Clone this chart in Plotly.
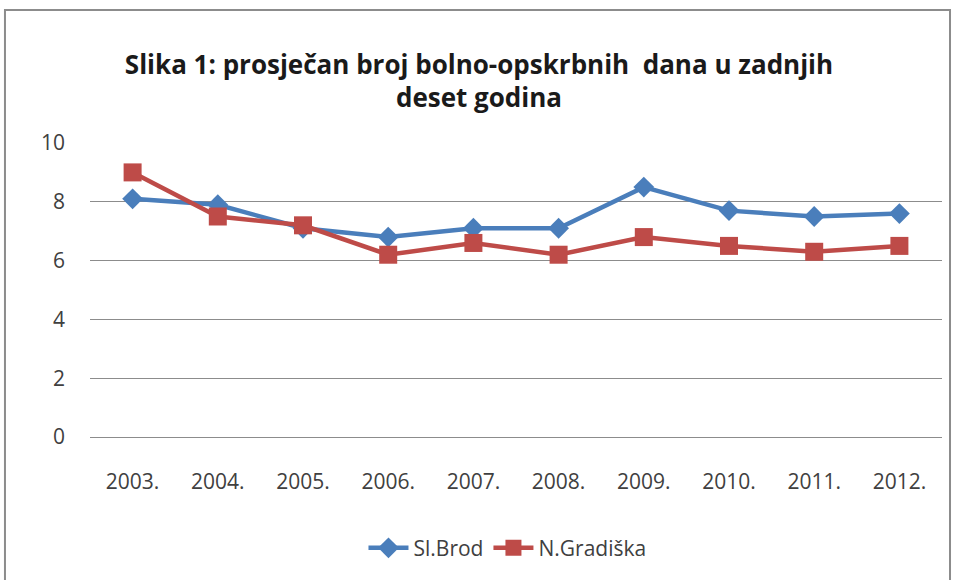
import plotly.graph_objects as go

years = ["2003.", "2004.", "2005.", "2006.", "2007.", "2008.", "2009.", "2010.", "2011.", "2012."]
sl_brod = [8.1, 7.9, 7.1, 6.8, 7.1, 7.1, 8.5, 7.7, 7.5, 7.6]
n_gradiska = [9.0, 7.5, 7.2, 6.2, 6.6, 6.2, 6.8, 6.5, 6.3, 6.5]
y_ticks = [0, 2, 4, 6, 8, 10]

BLUE = "#4a7ebb"
RED = "#be4b48"
FONT = "Open Sans"
TEXT = "#404040"

fig = go.Figure()
fig.add_trace(
    go.Scatter(
        x=years,
        y=sl_brod,
        mode="lines+markers",
        name="Sl.Brod",
        line=dict(color=BLUE, width=4.5),
        marker=dict(symbol="diamond", size=16, color=BLUE),
    )
)
fig.add_trace(
    go.Scatter(
        x=years,
        y=n_gradiska,
        mode="lines+markers",
        name="N.Gradiška",
        line=dict(color=RED, width=4.5),
        marker=dict(symbol="square", size=18, color=RED),
    )
)

# outer chart frame
fig.add_shape(
    type="rect",
    xref="paper",
    yref="paper",
    x0=-0.0998,
    x1=1.0094,
    y0=-0.5,
    y1=1.452,
    line=dict(color="#8c8c8c", width=2),
    fillcolor="rgba(0,0,0,0)",
    layer="below",
)

fig.update_layout(
    width=958,
    height=580,
    paper_bgcolor="white",
    plot_bgcolor="white",
    margin=dict(l=90, r=16, t=143, b=143),
    title=dict(
        text="<b>Slika 1: prosječan broj bolno-opskrbnih  dana u zadnjih<br>deset godina</b>",
        x=0.5,
        xanchor="center",
        y=0.873,
        yanchor="middle",
        font=dict(family=FONT, size=26, color="#1a1a1a"),
    ),
    xaxis=dict(
        type="category",
        range=[-0.5, 9.5],
        showgrid=False,
        showline=True,
        linecolor="#8c8c8c",
        linewidth=1,
        ticks="",
        tickfont=dict(family=FONT, size=21, color=TEXT),
        ticklabelstandoff=26,
    ),
    yaxis=dict(
        range=[0, 10],
        tickvals=y_ticks,
        showgrid=True,
        gridcolor="#8c8c8c",
        gridwidth=1,
        zeroline=False,
        ticks="",
        tickfont=dict(family=FONT, size=21, color=TEXT),
        ticklabelstandoff=24,
    ),
    legend=dict(
        orientation="h",
        x=0.49,
        xanchor="center",
        y=-0.378,
        yanchor="middle",
        font=dict(family=FONT, size=21, color=TEXT),
        itemwidth=40,
    ),
    showlegend=True,
)

fig.write_html(
    "out.html",
    config={"displayModeBar": False},
    post_script="document.body.style.margin='0';",
)
